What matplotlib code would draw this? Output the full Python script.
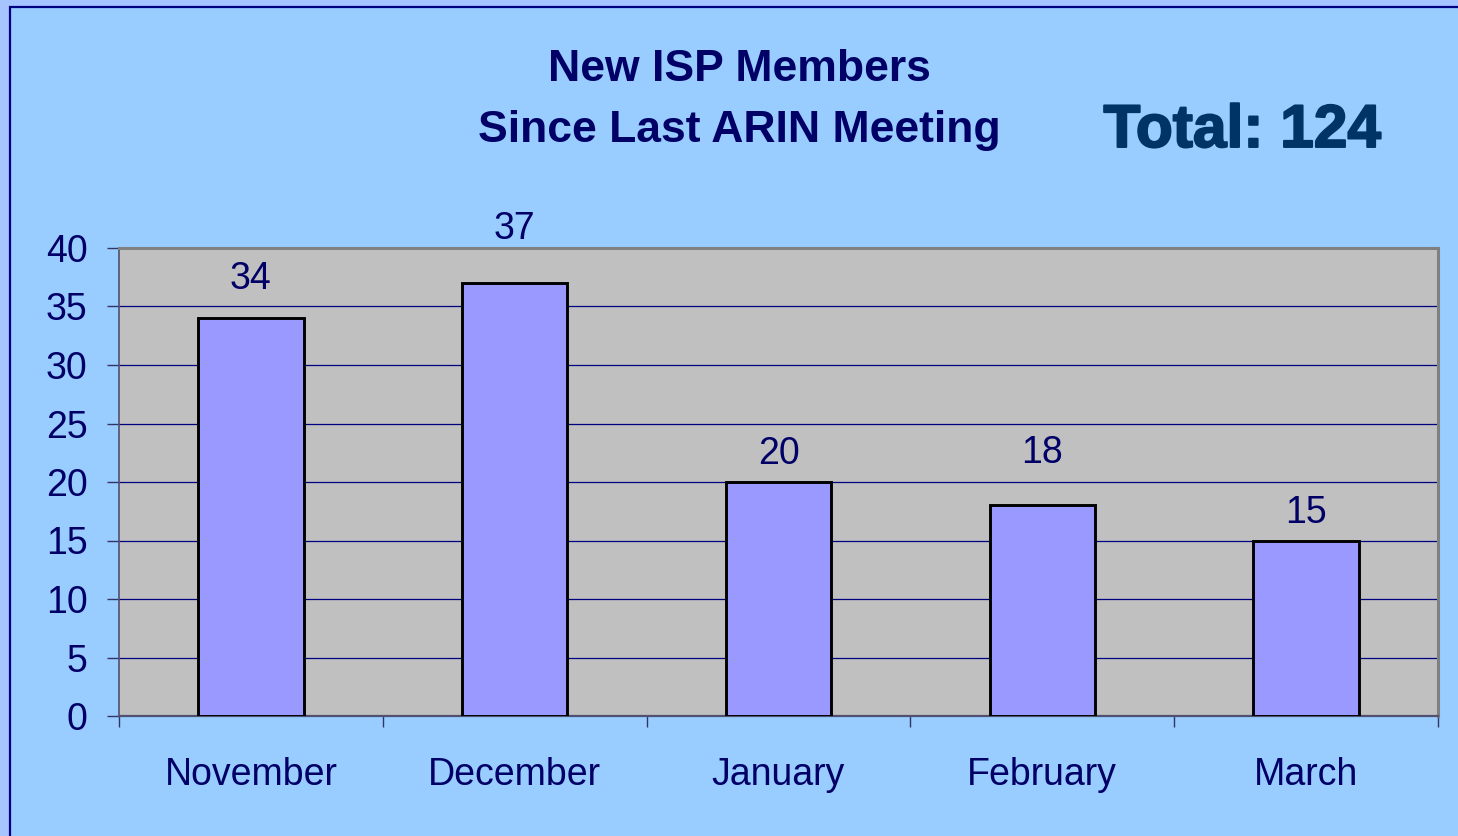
import matplotlib
matplotlib.use("Agg")
import matplotlib.pyplot as plt
import matplotlib.patheffects as pe
from matplotlib.patches import Rectangle
import numpy as np

months = ["November", "December", "January", "February", "March"]
members = [34, 37, 20, 18, 15]
total = 124
# gap (points) between bar top and its value label, as in the original slide
label_gap = [15, 26, 7.5, 25, 7]

navy = "#000066"
plt.rcParams["font.family"] = ["Liberation Sans", "DejaVu Sans"]

fig = plt.figure(figsize=(14.58, 8.36), dpi=100)
fig.patch.set_facecolor("#A6C4FF")
# inner slide panel with dark border
panel = Rectangle((10 / 1458, -0.01), 1.0, 1 - 7 / 836 + 0.01,
                  transform=fig.transFigure, facecolor="#99CCFF",
                  edgecolor="#000080", linewidth=1.6, zorder=0)
fig.add_artist(panel)

ax = fig.add_axes([119 / 1458, 120 / 836, (1438 - 119) / 1458, (716 - 248) / 836])
ax.set_zorder(2)
ax.set_facecolor("#C0C0C0")

x = np.arange(len(months))
bars = ax.bar(x, members, width=0.4, color="#9999FF", edgecolor="black",
              linewidth=2.1, zorder=3)
for rect, v, g in zip(bars, members, label_gap):
    ax.annotate(str(v), (rect.get_x() + rect.get_width() / 2, v),
                xytext=(0, g), textcoords="offset points", ha="center",
                va="bottom", fontsize=27, color=navy, zorder=4,
                annotation_clip=False)

ax.set_xlim(-0.5, len(months) - 0.5)
ax.set_ylim(0, 40)
ax.set_yticks(range(0, 41, 5))
ax.yaxis.grid(True, color="#000080", linewidth=0.9, zorder=1)
ax.set_axisbelow(True)

ax.set_xticks(x)
ax.set_xticklabels(months)
ax.set_xticks(np.arange(-0.5, len(months)), minor=True)
ax.tick_params(axis="x", which="major", length=0, pad=29.5, labelsize=27,
               labelcolor=navy)
ax.tick_params(axis="x", which="minor", length=8, width=1, color="#333366",
               direction="out")
ax.tick_params(axis="y", length=8.5, width=1, color="#333366", pad=14,
               labelsize=27, labelcolor=navy)

ax.spines["left"].set_color("#505070")
ax.spines["bottom"].set_color("#505070")
ax.spines["left"].set_linewidth(1.2)
ax.spines["bottom"].set_linewidth(1.6)
ax.spines["top"].set_color("#808080")
ax.spines["right"].set_color("#808080")
ax.spines["top"].set_linewidth(2.2)
ax.spines["right"].set_linewidth(2.2)

fig.text(739 / 1458, 1 - 81 / 836, "New ISP Members", ha="center",
         va="baseline", fontsize=32, fontweight="bold", color=navy)
fig.text(739 / 1458, 1 - 142 / 836, "Since Last ARIN Meeting", ha="center",
         va="baseline", fontsize=32, fontweight="bold", color=navy)
fig.text(1242 / 1458, 1 - 147 / 836, "Total: %d" % total, ha="center",
         va="baseline", fontsize=43.5, fontweight="bold", color="#003366",
         path_effects=[pe.withStroke(linewidth=1.4, foreground="#003366")])

fig.savefig("out.png", dpi=100, facecolor=fig.get_facecolor())
